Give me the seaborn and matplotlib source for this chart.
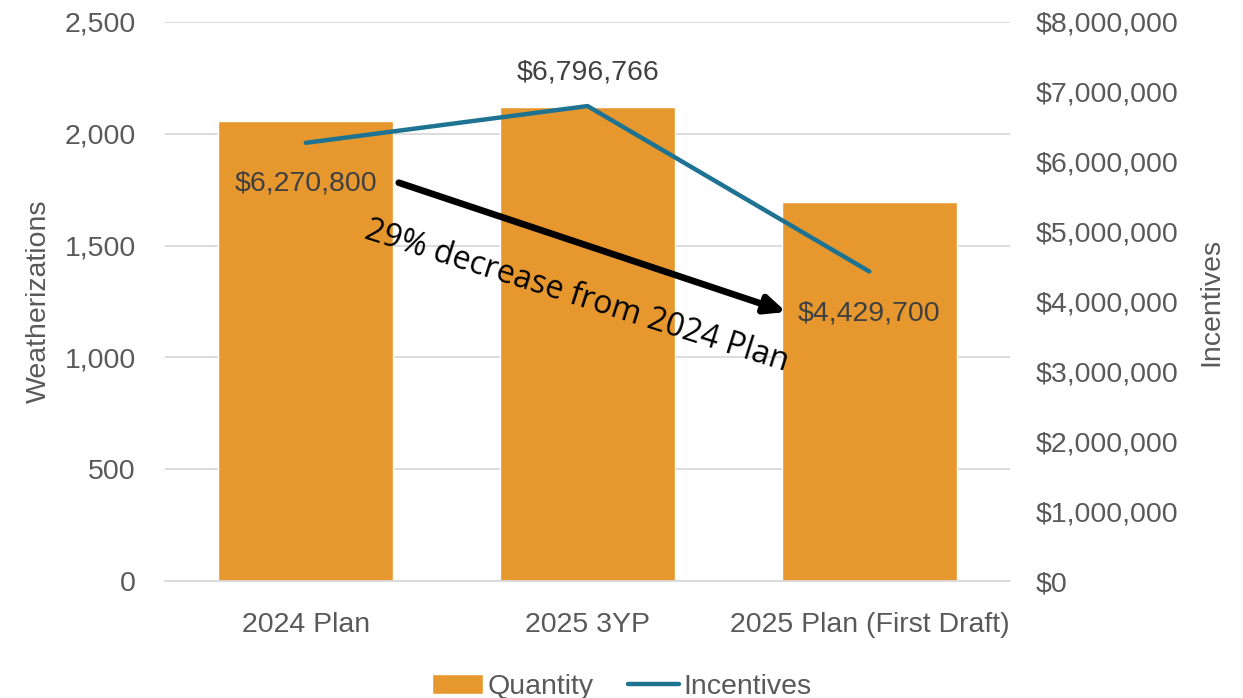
import numpy as np
import pandas as pd
import seaborn as sns
import matplotlib.pyplot as plt
from matplotlib.patches import Patch
from matplotlib.lines import Line2D
from matplotlib.ticker import FuncFormatter, MultipleLocator

# datos
categorias = ['2024 Plan', '2025 3YP', '2025 Plan (First Draft)']
cantidad = [2055, 2120, 1697]
incentivos = [6270800, 6796766, 4429700]
etiquetas_incentivos = ['$6,270,800', '$6,796,766', '$4,429,700']

color_barra = '#E6982F'
color_linea = '#1D7391'
color_texto = '#595959'

sns.set_theme(style='white')
plt.rcParams['font.family'] = ['Liberation Sans', 'DejaVu Sans']

fig = plt.figure(figsize=(12.43, 6.98), dpi=100)
ax = fig.add_axes([0.1327, 0.1676, 0.68, 0.8009])

df = pd.DataFrame({'categoria': categorias, 'cantidad': cantidad})
sns.barplot(data=df, x='categoria', y='cantidad', color=color_barra,
            saturation=1, width=0.62, ax=ax, zorder=2)
ax.set_xlim(-0.5, 2.5)
ax.set_ylim(0, 2500)
ax.yaxis.set_major_locator(MultipleLocator(500))
ax.yaxis.set_major_formatter(FuncFormatter(lambda v, p: f'{v:,.0f}'))
ax.grid(axis='y', color='#D9D9D9', linewidth=1.3, zorder=0)
ax.set_axisbelow(True)
for s in ['top', 'left', 'right']:
    ax.spines[s].set_visible(False)
ax.spines['bottom'].set_color('#D9D9D9')
ax.spines['bottom'].set_linewidth(1.3)
ax.tick_params(axis='y', length=0, pad=21, labelsize=20.5, labelcolor=color_texto)
ax.tick_params(axis='x', length=0, pad=22, labelsize=20.5, labelcolor=color_texto)
ax.set_xlabel('')
ax.set_ylabel('Weatherizations', fontsize=20.5, color=color_texto, labelpad=9)

ax2 = ax.twinx()
sns.lineplot(x=np.arange(len(categorias)), y=incentivos, color=color_linea,
             linewidth=3.2, ax=ax2, zorder=3)
ax2.set_ylim(0, 8000000)
ax2.set_xlim(-0.5, 2.5)
ax2.yaxis.set_major_locator(MultipleLocator(1000000))
ax2.yaxis.set_major_formatter(FuncFormatter(lambda v, p: f'${v:,.0f}'))
for s in ax2.spines.values():
    s.set_visible(False)
ax2.tick_params(axis='y', length=0, pad=18, labelsize=20.5, labelcolor=color_texto)
ax2.set_ylabel('Incentives', fontsize=20.5, color=color_texto, labelpad=15)

# etiquetas de datos
ax2.annotate(etiquetas_incentivos[0], (0, incentivos[0]), xytext=(0, -29),
             textcoords='offset points', ha='center', va='center', fontsize=20.5, color='#404040')
ax2.annotate(etiquetas_incentivos[1], (1, incentivos[1]), xytext=(0, 24),
             textcoords='offset points', ha='center', va='center', fontsize=20.5, color='#404040')
ax2.annotate(etiquetas_incentivos[2], (2, incentivos[2]), xytext=(0, -30),
             textcoords='offset points', ha='center', va='center', fontsize=20.5, color='#404040')

# flecha y texto
ax2.annotate('', xy=(1.705, 3.85e6), xytext=(0.33, 5.70e6),
             arrowprops=dict(arrowstyle='-|>,head_length=1.0,head_width=0.45',
                             color='black', lw=4.8, shrinkA=0, shrinkB=0))
ax2.text(0.96, 4.07e6, '29% decrease from 2024 Plan', rotation=-17.5,
         rotation_mode='anchor', ha='center', va='center', fontsize=23,
         color='black', family=['Open Sans', 'DejaVu Sans'])

# leyenda
handles = [Patch(facecolor=color_barra, label='Quantity'),
           Line2D([0], [0], color=color_linea, lw=3.2, label='Incentives')]
fig.legend(handles=handles, loc='lower center', bbox_to_anchor=(0.5, -0.04),
           ncol=2, frameon=False, fontsize=20.5, labelcolor=color_texto,
           handlelength=1.8, handletextpad=0.15, columnspacing=1.2)

fig.savefig('out.png', dpi=100)
